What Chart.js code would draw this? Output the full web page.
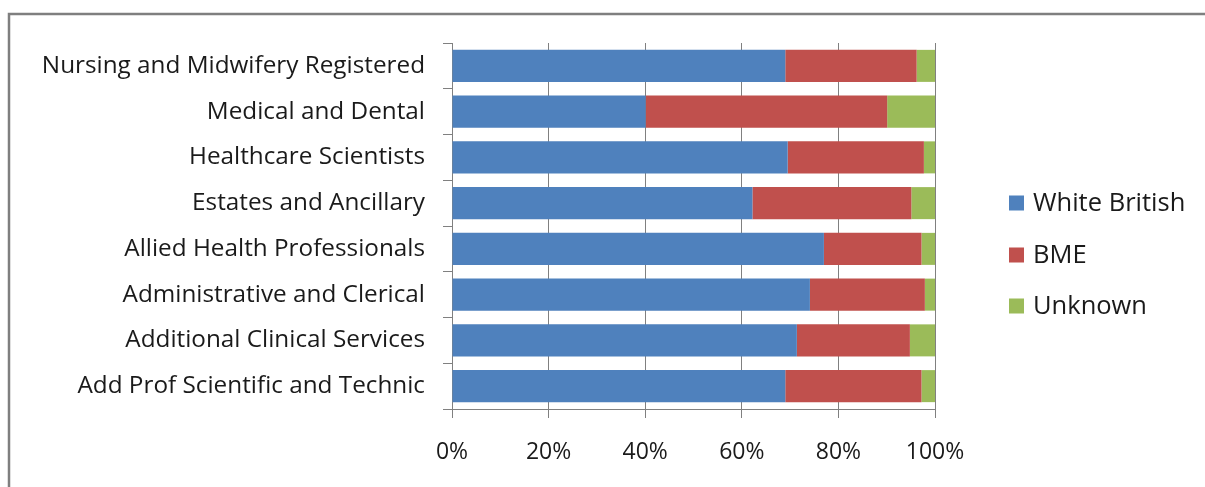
<!DOCTYPE html>
<html>
<head>
<meta charset="utf-8">
<script src="https://cdn.jsdelivr.net/npm/chart.js@4.4.1/dist/chart.umd.min.js"></script>
<style>
  html, body { margin: 0; padding: 0; background: #ffffff; }
  #wrap { position: relative; width: 1205px; height: 487px; }
  canvas { display: block; }
</style>
</head>
<body>
<div id="wrap"><canvas id="c" width="1205" height="487"></canvas></div>
<script>
const categories = [
  "Nursing and Midwifery Registered",
  "Medical and Dental",
  "Healthcare Scientists",
  "Estates and Ancillary",
  "Allied Health Professionals",
  "Administrative and Clerical",
  "Additional Clinical Services",
  "Add Prof Scientific and Technic"
];
const whiteBritish = [69.0, 40.1, 69.5, 62.2, 77.0, 74.1, 71.4, 69.0];
const bme          = [27.2, 50.0, 28.2, 32.9, 20.2, 23.8, 23.4, 28.2];
const unknown      = [3.8, 9.9, 2.3, 4.9, 2.8, 2.1, 5.2, 2.8];
const seriesNames  = ["White British", "BME", "Unknown"];
const xTickValues  = [0, 20, 40, 60, 80, 100];

const FONT = "'Open Sans', Lato, sans-serif";
const colors = ["#4F81BD", "#C0504D", "#9BBB59"];

const framePlugin = {
  id: 'frame',
  beforeDraw(chart) {
    const ctx = chart.ctx;
    ctx.save();
    ctx.fillStyle = '#ffffff';
    ctx.fillRect(0, 0, chart.width, chart.height);
    ctx.strokeStyle = '#7f7f7f';
    ctx.lineWidth = 2.5;
    ctx.beginPath();
    ctx.moveTo(9, chart.height + 5);
    ctx.lineTo(9, 14);
    ctx.lineTo(chart.width + 5, 14);
    ctx.stroke();
    ctx.restore();
  }
};

const legendPlugin = {
  id: 'customLegend',
  afterDraw(chart) {
    const ctx = chart.ctx;
    ctx.save();
    ctx.font = "25.5px " + FONT;
    ctx.textBaseline = 'middle';
    ctx.textAlign = 'left';
    const ys = [203, 255, 306];
    chart.data.datasets.forEach((ds, i) => {
      const y = ys[i];
      ctx.fillStyle = ds.backgroundColor;
      ctx.fillRect(1009, y - 7.5, 15, 15);
      ctx.fillStyle = '#1a1a1a';
      ctx.fillText(ds.label, 1033, y + 1);
    });
    ctx.restore();
  }
};

new Chart(document.getElementById('c'), {
  type: 'bar',
  data: {
    labels: categories,
    datasets: [
      { label: seriesNames[0], data: whiteBritish, backgroundColor: colors[0] },
      { label: seriesNames[1], data: bme, backgroundColor: colors[1] },
      { label: seriesNames[2], data: unknown, backgroundColor: colors[2] }
    ]
  },
  options: {
    indexAxis: 'y',
    responsive: false,
    animation: false,
    devicePixelRatio: 1,
    layout: { padding: { left: 0, right: 270, top: 43, bottom: 0 } },
    datasets: { bar: { barPercentage: 0.7, categoryPercentage: 1.0, borderWidth: 0 } },
    plugins: {
      legend: { display: false },
      tooltip: { enabled: false }
    },
    scales: {
      x: {
        stacked: true,
        min: 0, max: 100,
        afterBuildTicks(scale) { scale.ticks = xTickValues.map(v => ({ value: v })); },
        afterFit(scale) { scale.height = 78; },
        ticks: {
          callback: v => v + '%',
          color: '#1a1a1a',
          font: { family: FONT, size: 23 },
          padding: 21,
          maxRotation: 0
        },
        grid: { color: '#808080', lineWidth: 1, tickLength: 9, drawOnChartArea: true },
        border: { color: '#808080', width: 1 }
      },
      y: {
        stacked: true,
        afterFit(scale) { scale.width = 452; },
        ticks: {
          color: '#1a1a1a',
          font: { family: FONT, size: 24.3 },
          padding: 18,
          autoSkip: false
        },
        grid: { color: '#808080', lineWidth: 1, tickLength: 9, drawOnChartArea: false, offset: true },
        border: { color: '#808080', width: 1 }
      }
    }
  },
  plugins: [framePlugin, legendPlugin]
});
</script>
</body>
</html>
